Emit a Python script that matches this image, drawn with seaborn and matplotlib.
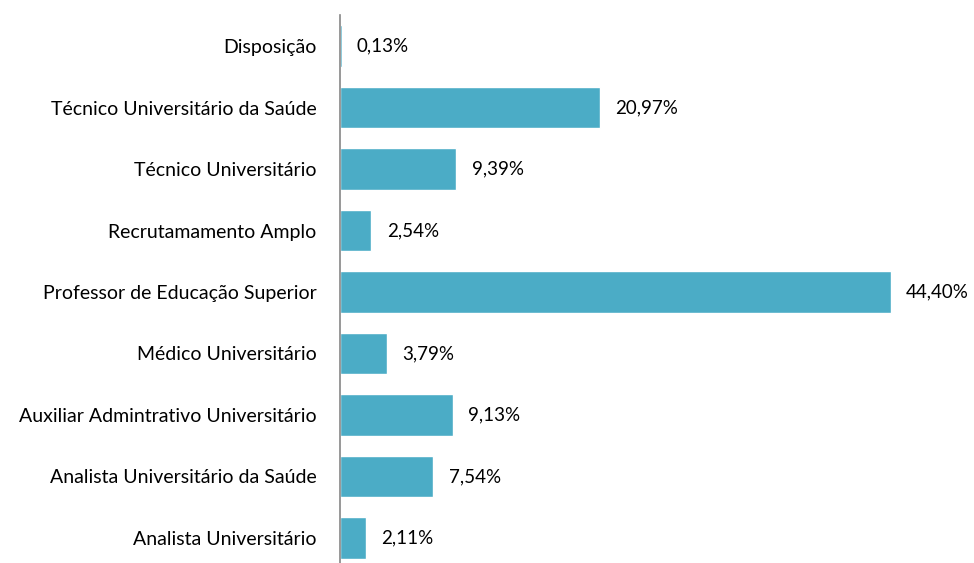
import matplotlib
matplotlib.use("Agg")
import matplotlib.pyplot as plt
import seaborn as sns
import numpy as np
import pandas as pd

# ---------------- DATA ---------------- #

categories = [
    "Disposição",
    "Técnico Universitário da Saúde",
    "Técnico Universitário",
    "Recrutamamento Amplo",
    "Professor de Educação Superior",
    "Médico Universitário",
    "Auxiliar Admintrativo Universitário",
    "Analista Universitário da Saúde",
    "Analista Universitário",
]
percentages = [0.13, 20.97, 9.39, 2.54, 44.40, 3.79, 9.13, 7.54, 2.11]
value_labels = ["0,13%", "20,97%", "9,39%", "2,54%", "44,40%",
                "3,79%", "9,13%", "7,54%", "2,11%"]

df = pd.DataFrame({"categoria": categories, "pct": percentages})

# ---------------- PLOT ---------------- #

sns.set_style("white")
plt.rcParams["font.family"] = ["Lato", "DejaVu Sans"]

fig = plt.figure(figsize=(9.74, 5.63), dpi=100)
ax = fig.add_axes([0.349, -0.0102, 0.637, 0.9831])

sns.barplot(data=df, x="pct", y="categoria", orient="h",
            color="#4BACC6", saturation=1, width=0.67, ax=ax)

ax.set_xlim(0, 50)
ax.set_ylim(len(categories) - 0.5, -0.5)

for i, (v, lab) in enumerate(zip(percentages, value_labels)):
    ax.annotate(lab, xy=(v, i), xytext=(11, 0), textcoords="offset points",
                va="center", ha="left", fontsize=13.5, color="black")

for s in ["top", "right", "bottom"]:
    ax.spines[s].set_visible(False)
ax.spines["left"].set_color("#868686")
ax.spines["left"].set_linewidth(1.2)

ax.set_xticks([])
ax.set_xlabel("")
ax.set_ylabel("")
ax.tick_params(axis="y", which="major", length=0, pad=17, labelsize=14,
               labelcolor="black")
ax.set_yticks(np.arange(-0.5, len(categories)), minor=True)
ax.tick_params(axis="y", which="minor", length=5, color="#868686", width=1.2)

fig.savefig("out.png", dpi=100)
